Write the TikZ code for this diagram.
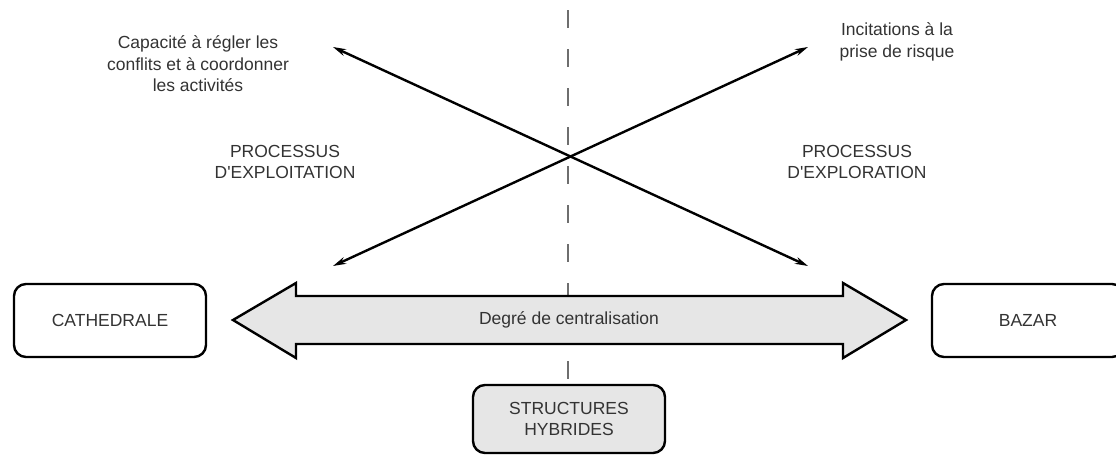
\documentclass[tikz,border=0pt]{standalone}
\usepackage{fontspec}
\setmainfont{Liberation Sans}
\usetikzlibrary{arrows.meta}
\definecolor{txt}{HTML}{333333}
\definecolor{boxfill}{HTML}{E6E6E6}
\definecolor{dashgray}{HTML}{6E6E6E}
\begin{document}
\begin{tikzpicture}[x=1pt,y=-1pt,
  every node/.style={font=\fontsize{17.5}{21.5}\selectfont, text=txt, align=center, inner sep=0pt},
  poolbox/.style={draw=black, line width=2.4pt, rounded corners=12pt, minimum width=192pt, minimum height=73pt},
  axis/.style={line width=2.4pt, {Stealth[length=13pt,width=7pt]}-{Stealth[length=13pt,width=7pt]}},
  divider/.style={draw=dashgray, line width=2pt, dash pattern=on 18pt off 21pt},
  bigarrow/.style={draw=black, line width=2.4pt, fill=boxfill, line join=miter}]
  \useasboundingbox (0,0) rectangle (1116,456);
  \clip (0,0) rectangle (1116,456);

  % end points of the two crossing axes
  \coordinate (tl) at (333,47);
  \coordinate (br) at (808,266);
  \coordinate (bl) at (333,266);
  \coordinate (tr) at (808,47);

  % the two poles and the hybrid middle
  \node[poolbox] (cathedrale) at (110,320.5) {CATHEDRALE};
  \node[poolbox] (bazar) at (1028,320.5) {BAZAR};
  \node[poolbox, fill=boxfill, minimum height=68pt] (hybrid) at (569,419) {STRUCTURES\\HYBRIDES};

  % vertical divider, passing behind the double arrow
  \coordinate (divtop) at (568,10);
  \draw[divider] (divtop) -- (hybrid.north -| divtop);

  % centralisation double arrow
  \draw[bigarrow] (233,320) -- (296,283) -- (296,296) -- (843,296) -- (843,283)
    -- (906,320) -- (843,358) -- (843,344) -- (296,344) -- (296,358) -- cycle;
  \node (degre) at (569,320) {Degré de centralisation};

  % crossing axes
  \draw[axis] (tl) -- (br);
  \draw[axis] (bl) -- (tr);

  % labels
  \node (capacite) at (198,64) {Capacité à régler les\\conflits et à coordonner\\les activités};
  \node (incit) at (897,42) {Incitations à la\\prise de risque};
  \node (exploit) at (285,162) {PROCESSUS\\D\textquotesingle EXPLOITATION};
  \node (explor) at (857,162) {PROCESSUS\\D\textquotesingle EXPLORATION};
\end{tikzpicture}
\end{document}
